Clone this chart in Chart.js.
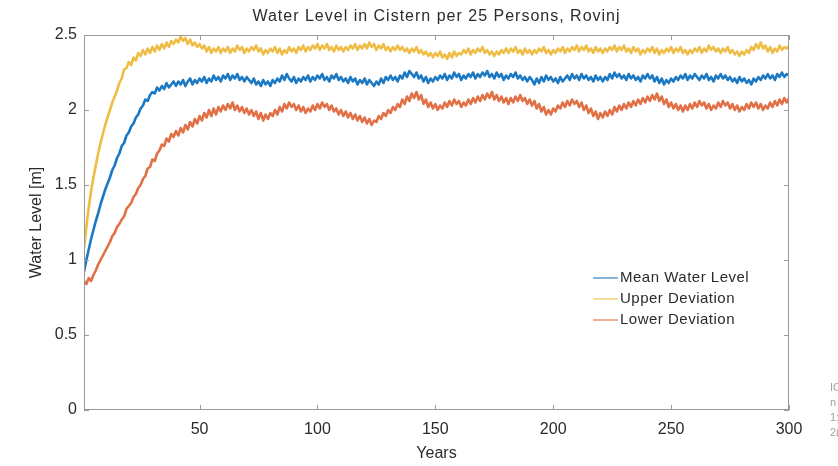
<!DOCTYPE html>
<html>
<head>
<meta charset="utf-8">
<title>Water Level in Cistern per 25 Persons, Rovinj</title>
<script src="https://cdn.jsdelivr.net/npm/chart.js@4/dist/chart.umd.min.js"></script>
<style>
    html, body { margin: 0; padding: 0; background: #ffffff; }
    #wrap { position: relative; width: 838px; height: 466px; }
    canvas { display: block; }
</style>
</head>
<body>
<div id="wrap"><canvas id="levelChart" width="838" height="466"></canvas></div>
<script>
// years 1..300
const years = Array.from({ length: 300 }, (_, i) => i + 1);

const xTicks = [50, 100, 150, 200, 250, 300];
const yTicks = [0, 0.5, 1, 1.5, 2, 2.5];
const yTickLabels = ['0', '0.5', '1', '1.5', '2', '2.5'];

const seriesNames = ['Mean Water Level', 'Upper Deviation', 'Lower Deviation'];

// mean water level [m]
const meanLevel = [
    0.92, 1.00, 1.07, 1.14, 1.20, 1.26, 1.31, 1.37, 1.42, 1.47,
    1.51, 1.55, 1.60, 1.63, 1.68, 1.71, 1.76, 1.78, 1.83, 1.85,
    1.89, 1.91, 1.95, 1.97, 2.01, 2.03, 2.07, 2.06, 2.10, 2.12,
    2.11, 2.15, 2.13, 2.16, 2.14, 2.18, 2.15, 2.17, 2.19, 2.16,
    2.19, 2.17, 2.20, 2.16, 2.19, 2.21, 2.17, 2.20, 2.18, 2.21,
    2.19, 2.22, 2.18, 2.21, 2.19, 2.23, 2.20, 2.22, 2.19, 2.23,
    2.21, 2.24, 2.20, 2.23, 2.21, 2.24, 2.20, 2.22, 2.19, 2.22,
    2.20, 2.18, 2.21, 2.17, 2.19, 2.16, 2.20, 2.17, 2.19, 2.16,
    2.20, 2.18, 2.21, 2.19, 2.23, 2.20, 2.24, 2.21, 2.19, 2.22,
    2.18, 2.21, 2.19, 2.22, 2.20, 2.23, 2.19, 2.22, 2.20, 2.23,
    2.21, 2.24, 2.20, 2.22, 2.19, 2.23, 2.21, 2.24, 2.20, 2.22,
    2.19, 2.21, 2.18, 2.22, 2.19, 2.21, 2.17, 2.20, 2.18, 2.21,
    2.17, 2.20, 2.18, 2.16, 2.19, 2.17, 2.21, 2.18, 2.22, 2.20,
    2.23, 2.20, 2.22, 2.19, 2.23, 2.21, 2.25, 2.22, 2.26, 2.24,
    2.22, 2.25, 2.21, 2.23, 2.19, 2.22, 2.18, 2.21, 2.19, 2.22,
    2.20, 2.23, 2.21, 2.24, 2.20, 2.23, 2.21, 2.25, 2.22, 2.24,
    2.20, 2.23, 2.21, 2.24, 2.22, 2.25, 2.21, 2.24, 2.22, 2.25,
    2.23, 2.26, 2.22, 2.24, 2.21, 2.25, 2.22, 2.24, 2.20, 2.23,
    2.21, 2.24, 2.22, 2.25, 2.21, 2.23, 2.20, 2.22, 2.19, 2.22,
    2.20, 2.17, 2.21, 2.18, 2.22, 2.19, 2.23, 2.20, 2.22, 2.19,
    2.21, 2.18, 2.22, 2.19, 2.21, 2.23, 2.20, 2.24, 2.21, 2.23,
    2.20, 2.24, 2.21, 2.23, 2.20, 2.22, 2.19, 2.23, 2.20, 2.22,
    2.19, 2.22, 2.20, 2.24, 2.21, 2.25, 2.22, 2.24, 2.21, 2.23,
    2.20, 2.24, 2.21, 2.23, 2.20, 2.22, 2.19, 2.23, 2.21, 2.24,
    2.21, 2.23, 2.19, 2.22, 2.18, 2.21, 2.17, 2.20, 2.18, 2.21,
    2.19, 2.22, 2.20, 2.23, 2.21, 2.24, 2.20, 2.23, 2.21, 2.24,
    2.22, 2.20, 2.23, 2.21, 2.24, 2.20, 2.22, 2.19, 2.23, 2.21,
    2.24, 2.21, 2.23, 2.20, 2.22, 2.19, 2.21, 2.18, 2.22, 2.19,
    2.21, 2.18, 2.20, 2.17, 2.21, 2.19, 2.22, 2.20, 2.23, 2.21,
    2.24, 2.21, 2.23, 2.20, 2.24, 2.22, 2.25, 2.22, 2.24, 2.23
];

// upper deviation [m]
const upperLevel = [
    1.08, 1.22, 1.35, 1.46, 1.55, 1.63, 1.71, 1.78, 1.84, 1.90,
    1.95, 2.00, 2.05, 2.09, 2.13, 2.18, 2.21, 2.27, 2.28, 2.32,
    2.30, 2.35, 2.33, 2.38, 2.36, 2.40, 2.37, 2.41, 2.38, 2.42,
    2.39, 2.43, 2.40, 2.44, 2.41, 2.45, 2.42, 2.46, 2.44, 2.47,
    2.45, 2.49, 2.46, 2.48, 2.44, 2.47, 2.43, 2.45, 2.42, 2.44,
    2.41, 2.43, 2.39, 2.42, 2.38, 2.41, 2.39, 2.42, 2.38, 2.41,
    2.39, 2.42, 2.38, 2.41, 2.39, 2.43, 2.40, 2.42, 2.38, 2.41,
    2.39, 2.42, 2.40, 2.43, 2.39, 2.41, 2.37, 2.40, 2.38, 2.41,
    2.39, 2.42, 2.38, 2.41, 2.37, 2.40, 2.38, 2.42, 2.39, 2.41,
    2.38, 2.42, 2.40, 2.43, 2.39, 2.42, 2.40, 2.43, 2.41, 2.44,
    2.40, 2.43, 2.41, 2.44, 2.40, 2.42, 2.39, 2.43, 2.40, 2.42,
    2.39, 2.42, 2.40, 2.43, 2.41, 2.44, 2.40, 2.43, 2.41, 2.44,
    2.41, 2.45, 2.42, 2.44, 2.40, 2.43, 2.41, 2.44, 2.40, 2.42,
    2.39, 2.42, 2.40, 2.43, 2.40, 2.42, 2.39, 2.41, 2.38, 2.41,
    2.39, 2.42, 2.38, 2.40, 2.37, 2.39, 2.36, 2.38, 2.35, 2.38,
    2.36, 2.39, 2.35, 2.37, 2.34, 2.38, 2.35, 2.39, 2.36, 2.38,
    2.37, 2.40, 2.38, 2.41, 2.37, 2.40, 2.38, 2.41, 2.39, 2.42,
    2.38, 2.40, 2.37, 2.39, 2.36, 2.39, 2.37, 2.40, 2.38, 2.41,
    2.38, 2.41, 2.39, 2.42, 2.38, 2.40, 2.37, 2.41, 2.38, 2.40,
    2.37, 2.40, 2.38, 2.41, 2.39, 2.42, 2.38, 2.40, 2.37, 2.40,
    2.38, 2.41, 2.39, 2.42, 2.38, 2.41, 2.39, 2.42, 2.40, 2.43,
    2.39, 2.42, 2.40, 2.43, 2.39, 2.41, 2.38, 2.42, 2.39, 2.41,
    2.38, 2.41, 2.39, 2.42, 2.40, 2.43, 2.39, 2.42, 2.40, 2.43,
    2.39, 2.41, 2.38, 2.42, 2.39, 2.41, 2.37, 2.40, 2.38, 2.41,
    2.39, 2.42, 2.38, 2.41, 2.37, 2.40, 2.38, 2.41, 2.39, 2.42,
    2.38, 2.41, 2.39, 2.42, 2.38, 2.40, 2.37, 2.40, 2.38, 2.41,
    2.39, 2.42, 2.38, 2.41, 2.39, 2.43, 2.40, 2.42, 2.39, 2.41,
    2.38, 2.41, 2.39, 2.42, 2.38, 2.40, 2.37, 2.39, 2.36, 2.39,
    2.37, 2.40, 2.38, 2.42, 2.40, 2.44, 2.41, 2.45, 2.41, 2.43,
    2.39, 2.42, 2.38, 2.41, 2.39, 2.43, 2.40, 2.42, 2.41, 2.43
];

// lower deviation [m]
const lowerLevel = [
    0.86, 0.84, 0.88, 0.86, 0.90, 0.93, 0.97, 1.00, 1.03, 1.06,
    1.09, 1.12, 1.16, 1.18, 1.22, 1.24, 1.27, 1.29, 1.34, 1.36,
    1.38, 1.42, 1.44, 1.48, 1.50, 1.54, 1.56, 1.61, 1.62, 1.67,
    1.66, 1.71, 1.73, 1.77, 1.76, 1.81, 1.79, 1.84, 1.82, 1.86,
    1.83, 1.88, 1.85, 1.90, 1.87, 1.92, 1.89, 1.94, 1.91, 1.96,
    1.93, 1.98, 1.95, 2.00, 1.96, 2.01, 1.97, 2.02, 1.99, 2.03,
    2.00, 2.04, 2.01, 2.05, 2.00, 2.03, 1.99, 2.02, 1.98, 2.01,
    1.97, 2.00, 1.96, 1.99, 1.94, 1.98, 1.93, 1.97, 1.94, 1.98,
    1.96, 2.00, 1.97, 2.02, 1.99, 2.04, 2.01, 2.05, 2.02, 2.04,
    2.00, 2.03, 1.99, 2.02, 1.98, 2.01, 1.99, 2.03, 2.00, 2.04,
    2.01, 2.05, 2.02, 2.04, 2.00, 2.03, 1.99, 2.01, 1.97, 2.00,
    1.96, 1.99, 1.95, 1.98, 1.94, 1.97, 1.93, 1.96, 1.92, 1.95,
    1.91, 1.94, 1.90, 1.93, 1.92, 1.96, 1.94, 1.98, 1.96, 2.00,
    1.98, 2.02, 2.00, 2.04, 2.02, 2.07, 2.04, 2.09, 2.06, 2.11,
    2.08, 2.12, 2.07, 2.10, 2.04, 2.07, 2.02, 2.05, 2.01, 2.04,
    2.00, 2.03, 2.01, 2.05, 2.02, 2.06, 2.03, 2.07, 2.04, 2.06,
    2.02, 2.05, 2.03, 2.07, 2.04, 2.08, 2.05, 2.09, 2.06, 2.10,
    2.07, 2.11, 2.08, 2.12, 2.07, 2.10, 2.06, 2.09, 2.05, 2.08,
    2.04, 2.08, 2.05, 2.09, 2.06, 2.10, 2.06, 2.08, 2.04, 2.07,
    2.03, 2.06, 2.01, 2.04, 1.99, 2.02, 1.97, 2.00, 1.97, 2.01,
    1.99, 2.03, 2.01, 2.05, 2.02, 2.06, 2.03, 2.07, 2.04, 2.06,
    2.02, 2.05, 2.00, 2.03, 1.98, 2.01, 1.96, 1.99, 1.94, 1.98,
    1.95, 1.99, 1.96, 2.00, 1.97, 2.02, 1.99, 2.03, 2.00, 2.04,
    2.01, 2.05, 2.02, 2.06, 2.03, 2.07, 2.04, 2.08, 2.05, 2.09,
    2.06, 2.10, 2.07, 2.11, 2.06, 2.09, 2.04, 2.07, 2.02, 2.05,
    2.01, 2.04, 2.00, 2.03, 1.99, 2.03, 2.00, 2.04, 2.01, 2.05,
    2.02, 2.06, 2.03, 2.05, 2.01, 2.04, 2.00, 2.03, 2.01, 2.05,
    2.02, 2.06, 2.03, 2.05, 2.01, 2.04, 2.00, 2.03, 1.99, 2.02,
    2.00, 2.04, 2.01, 2.05, 2.02, 2.05, 2.01, 2.04, 2.00, 2.03,
    2.01, 2.05, 2.02, 2.06, 2.03, 2.07, 2.04, 2.08, 2.05, 2.08
];

const seriesColors = ['#1b78c2', '#efbd45', '#e27046'];

const FONT = "'Liberation Sans', Arial, Helvetica, sans-serif";
const TEXT_COLOR = '#2b2b2b';
const AXIS_COLOR = '#9a9a9a';

// MATLAB style box, inward ticks, title, legend
const matlabBox = {
    id: 'matlabBox',
    afterDraw(chart) {
        const ctx = chart.ctx;
        const a = chart.chartArea;
        const xs = chart.scales.x;
        const ys = chart.scales.y;
        ctx.save();

        // box
        ctx.strokeStyle = AXIS_COLOR;
        ctx.lineWidth = 1;
        ctx.strokeRect(a.left + 0.5, a.top + 0.5, a.right - a.left - 1, a.bottom - a.top - 1);

        // inward ticks
        ctx.beginPath();
        xTicks.forEach(v => {
            const px = Math.round(xs.getPixelForValue(v)) + 0.5;
            ctx.moveTo(px, a.bottom); ctx.lineTo(px, a.bottom - 5);
            ctx.moveTo(px, a.top); ctx.lineTo(px, a.top + 5);
        });
        yTicks.forEach(v => {
            const py = Math.round(ys.getPixelForValue(v)) + 0.5;
            ctx.moveTo(a.left, py); ctx.lineTo(a.left + 5, py);
            ctx.moveTo(a.right, py); ctx.lineTo(a.right - 5, py);
        });
        ctx.stroke();

        // title
        ctx.fillStyle = TEXT_COLOR;
        ctx.font = '16px ' + FONT;
        ctx.letterSpacing = '1px';
        ctx.textAlign = 'center';
        ctx.textBaseline = 'middle';
        ctx.fillText('Water Level in Cistern per 25 Persons, Rovinj', (a.left + a.right) / 2, 17);

        // legend (no box)
        ctx.font = '15px ' + FONT;
        ctx.letterSpacing = '0.5px';
        ctx.textAlign = 'left';
        const lx = 593, ly = 278, gap = 21;
        chart.data.datasets.forEach((ds, i) => {
            const y = ly + i * gap;
            ctx.strokeStyle = ds.borderColor;
            ctx.globalAlpha = 0.55;
            ctx.lineWidth = 2;
            ctx.beginPath();
            ctx.moveTo(lx, y); ctx.lineTo(lx + 25, y);
            ctx.stroke();
            ctx.globalAlpha = 1;
            ctx.fillStyle = TEXT_COLOR;
            ctx.fillText(ds.label, lx + 27, y);
        });

        // cut off side note at the right edge
        ctx.font = '11px ' + FONT;
        ctx.letterSpacing = '0px';
        ctx.fillStyle = '#a0a0a0';
        ['IC', 'n', '1:', '2('].forEach((t, i) => {
            ctx.fillText(t, 830, 388 + i * 15);
        });
        ctx.restore();
    }
};

function initChart() {
    const ctx = document.getElementById('levelChart');
    new Chart(ctx, {
        type: 'line',
        data: {
            labels: years,
            datasets: [
                { label: seriesNames[0], data: meanLevel, borderColor: seriesColors[0] },
                { label: seriesNames[1], data: upperLevel, borderColor: seriesColors[1] },
                { label: seriesNames[2], data: lowerLevel, borderColor: seriesColors[2] }
            ].map(ds => Object.assign(ds, {
                borderWidth: 2.6,
                borderJoinStyle: 'round',
                pointRadius: 0,
                tension: 0,
                fill: false
            }))
        },
        options: {
            responsive: false,
            animation: false,
            devicePixelRatio: 1,
            layout: { padding: { top: 35, right: 49, left: 0, bottom: 0 } },
            plugins: {
                legend: { display: false },
                title: { display: false },
                tooltip: { enabled: false }
            },
            scales: {
                x: {
                    type: 'linear',
                    min: 1,
                    max: 300,
                    afterBuildTicks: axis => { axis.ticks = xTicks.map(v => ({ value: v })); },
                    afterFit: axis => { axis.height = 56; },
                    grid: { display: false, drawTicks: false },
                    border: { display: false },
                    ticks: {
                        padding: 10,
                        color: TEXT_COLOR,
                        font: { family: FONT, size: 16 },
                        maxRotation: 0
                    },
                    title: {
                        display: true,
                        text: 'Years',
                        color: TEXT_COLOR,
                        font: { family: FONT, size: 16 },
                        padding: { top: 0, bottom: 3 }
                    }
                },
                y: {
                    min: 0,
                    max: 2.5,
                    afterBuildTicks: axis => { axis.ticks = yTicks.map(v => ({ value: v })); },
                    afterFit: axis => { axis.width = 84; },
                    grid: { display: false, drawTicks: false },
                    border: { display: false },
                    ticks: {
                        padding: 7,
                        color: TEXT_COLOR,
                        font: { family: FONT, size: 16 },
                        callback: (value) => yTickLabels[yTicks.indexOf(value)]
                    },
                    title: {
                        display: true,
                        text: 'Water Level [m]',
                        color: TEXT_COLOR,
                        font: { family: FONT, size: 16 },
                        padding: { top: 27, bottom: 0 }
                    }
                }
            }
        },
        plugins: [matlabBox]
    });
}

document.addEventListener('DOMContentLoaded', initChart);
</script>
</body>
</html>
